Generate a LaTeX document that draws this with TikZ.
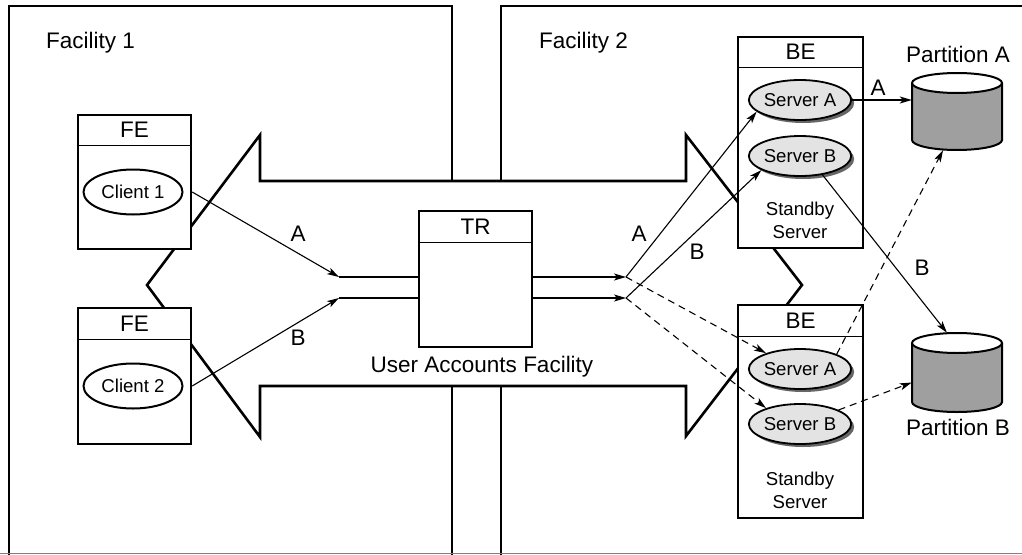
\documentclass[tikz,border=0pt]{standalone}
\usepackage{fontspec}
\setmainfont{Liberation Sans}
\usetikzlibrary{shapes.geometric,shadows,arrows.meta,calc}
\begin{document}
\begin{tikzpicture}[x=1pt,y=-1pt,
  thickln/.style={line width=2.6pt},
  boxst/.style={draw,line width=2.4pt,fill=white,rectangle,inner sep=0pt},
  divst/.style={line width=1pt},
  big/.style={font=\fontsize{22.5}{27}\selectfont},
  small/.style={font=\fontsize{18.6}{23}\selectfont},
  client/.style={ellipse,draw,line width=2pt,fill=white,minimum width=99pt,minimum height=45pt,inner sep=0pt,small},
  server/.style={ellipse,draw,line width=1.8pt,fill=gray!22,minimum width=97pt,minimum height=40pt,inner sep=0pt,small,
     drop shadow={shadow xshift=3pt,shadow yshift=-3pt,fill=black!60,opacity=1}},
  conn/.style={line width=1.1pt,-{Stealth[length=12pt,width=7pt,inset=3pt]}},
  plainln/.style={line width=1.1pt},
  dconn/.style={conn,dash pattern=on 7pt off 5pt},
  lab/.style={big,inner sep=0pt},
  cyl/.style={rectangle,minimum width=90pt,inner sep=0pt},
]
\useasboundingbox (0,0) rectangle (1022,554);
\fill[white] (0,0) rectangle (1022,554);

% facilities
\begin{scope}
\clip (0,0) rectangle (1022,554);
\draw[thickln] (9,570) -- (9,6) -- (452,6) -- (452,570);
\draw[thickln] (1040,6) -- (501,6) -- (501,570);
\end{scope}
\draw[gray,line width=1pt] (0,553.5) -- (1022,553.5);
\node[lab,anchor=base west] (f1) at (46,48) {Facility 1};
\node[lab,anchor=base west] (f2) at (539,48) {Facility 2};

% big double arrow
\draw[thickln,fill=white] (147,285) -- (260,135) -- (260,181) -- (686,181) -- (686,135) -- (802,285)
  -- (686,436) -- (686,386) -- (260,386) -- (260,437) -- cycle;

% FE boxes
\node[boxst,minimum width=113pt,minimum height=134pt] (fe1) at (134.5,182) {};
\draw[divst] ([yshift=-32pt]fe1.north west) -- ([yshift=-32pt]fe1.north east);
\node[lab] (fe1h) at ([yshift=-16pt]fe1.north) {FE};
\node[client] (c1) at (133,192) {Client 1};

\node[boxst,minimum width=113pt,minimum height=136pt] (fe2) at (134.5,376) {};
\draw[divst] ([yshift=-33pt]fe2.north west) -- ([yshift=-33pt]fe2.north east);
\node[lab] (fe2h) at ([yshift=-16.5pt]fe2.north) {FE};
\node[client] (c2) at (133,386) {Client 2};

% TR box
\node[boxst,minimum width=113pt,minimum height=136pt] (tr) at (475.5,279) {};
\draw[divst] ([yshift=-33pt]tr.north west) -- ([yshift=-33pt]tr.north east);
\node[lab] (trh) at ([yshift=-16.5pt]tr.north) {TR};
\node[lab,anchor=base] (uaf) at (482,372) {User Accounts Facility};

% BE boxes
\node[boxst,minimum width=125pt,minimum height=211pt] (be1) at (800.5,142.5) {};
\draw[divst] ([yshift=-32pt]be1.north west) -- ([yshift=-32pt]be1.north east);
\node[lab] (be1h) at ([yshift=-16pt]be1.north) {BE};
\node[server] (sa1) at (800,100) {Server A};
\node[server] (sb1) at (800,156) {Server B};
\node[small,align=center,inner sep=0pt] (st1) at (800,220) {Standby\\Server};

\node[boxst,minimum width=125pt,minimum height=213pt] (be2) at (800.5,411.5) {};
\draw[divst] ([yshift=-33pt]be2.north west) -- ([yshift=-33pt]be2.north east);
\node[lab] (be2h) at ([yshift=-16.5pt]be2.north) {BE};
\node[server] (sa2) at (800,369) {Server A};
\node[server] (sb2) at (800,424) {Server B};
\node[small,align=center,inner sep=0pt] (st2) at (800,490) {Standby\\Server};

% partitions
\node[cyl,minimum height=77pt] (pA) at (957,111.5) {};
\fill[gray!75] (912,83) rectangle (1002,140);
\fill[gray!75] (957,140) ellipse [x radius=45, y radius=10];
\draw[line width=2pt] (912,83) -- (912,140) arc[start angle=180,end angle=0,x radius=45,y radius=10] -- (1002,83);
\draw[line width=2pt,fill=white] (957,83) ellipse [x radius=45,y radius=10];
\node[lab,anchor=base] (pAl) at (958,62) {Partition A};

\node[cyl,minimum height=79pt] (pB) at (957,372.5) {};
\fill[gray!75] (912,343) rectangle (1002,402);
\fill[gray!75] (957,402) ellipse [x radius=45, y radius=10];
\draw[line width=2pt] (912,343) -- (912,402) arc[start angle=180,end angle=0,x radius=45,y radius=10] -- (1002,343);
\draw[line width=2pt,fill=white] (957,343) ellipse [x radius=45,y radius=10];
\node[lab,anchor=base] (pBl) at (958,435) {Partition B};

% connectors
\coordinate (jAi) at (339,277);
\coordinate (jBi) at (339,298);
\coordinate (jAo) at (626,277);
\coordinate (jBo) at (626,298);
\draw[conn] (c1.east -| fe1.east) -- (jAi);
\draw[conn] (c2.east -| fe2.east) -- (jBi);
\draw[plainln] (jAi) -- (jAi -| tr.west);
\draw[plainln] (jBi) -- (jBi -| tr.west);
\draw[conn] (jAo -| tr.east) -- (jAo);
\draw[conn] (jBo -| tr.east) -- (jBo);
\draw[conn] (jAo) -- (sa1.195);
\draw[conn] (jBo) -- (sb1.200);
\draw[dconn] (jAo) -- (sa2.155);
\draw[dconn] (jBo) -- (sb2.155);
\draw[conn] (sa1.east) -- (sa1.east -| pA.west);
\draw[conn] (sb1.320) -- ([xshift=-10pt]pB.north);
\draw[dconn] (sa2.22) -- ([xshift=-14pt]pA.south);
\draw[dconn] (sb2.20) -- ([yshift=-10pt]pB.west);

% connector labels
\node[lab] (la1) at (298,234) {A};
\node[lab] (lb1) at (298,338) {B};
\node[lab] (la2) at (639,234) {A};
\node[lab] (lb2) at (697,252) {B};
\node[lab] (la3) at (878,88) {A};
\node[lab] (lb3) at (922,268) {B};
\end{tikzpicture}
\end{document}
